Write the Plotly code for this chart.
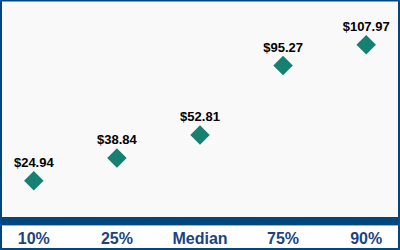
import plotly.graph_objects as go

categories = ["10%", "25%", "Median", "75%", "90%"]
values = [24.94, 38.84, 52.81, 95.27, 107.97]
labels = ["$24.94", "$38.84", "$52.81", "$95.27", "$107.97"]

W, H = 400, 250
ml, mr, mt, mb = 2, 2, 2, 33
pw, ph = W - ml - mr, H - mt - mb

BLUE = "#00467f"
TEAL = "#168170"

fig = go.Figure()
fig.add_trace(go.Scatter(
    x=categories, y=values, mode="markers+text",
    text=labels, textposition="top center",
    textfont=dict(family="Liberation Sans, Arial", size=13, color="#000000", weight="bold"),
    marker=dict(symbol="diamond", size=15, color=TEAL),
    cliponaxis=False, hoverinfo="skip",
))

def px_x(p):
    return (p - ml) / pw

def px_y(p):
    return (H - mb - p) / ph

shapes = [
    dict(type="rect", xref="paper", yref="paper", x0=px_x(0), x1=px_x(400),
         y0=px_y(225), y1=px_y(217), fillcolor=BLUE, line=dict(width=0), layer="above"),
    dict(type="line", xref="paper", yref="paper", x0=px_x(0), x1=px_x(400),
         y0=px_y(225.5), y1=px_y(225.5), line=dict(color="#9fb3c8", width=1)),
    dict(type="rect", xref="paper", yref="paper", x0=px_x(1), x1=px_x(399),
         y0=px_y(249), y1=px_y(0.5), fillcolor="rgba(0,0,0,0)", line=dict(color=BLUE, width=2)),
]

fig.update_layout(
    width=W, height=H,
    margin=dict(l=ml, r=mr, t=mt, b=mb, pad=0),
    paper_bgcolor="#ffffff", plot_bgcolor="#f9f9f9",
    showlegend=False, shapes=shapes,
    xaxis=dict(type="category", range=[-0.383, 4.383], showgrid=False, zeroline=False,
               showline=False, ticks="outside", ticklen=7, tickcolor="rgba(0,0,0,0)",
               tickfont=dict(family="Liberation Sans, Arial", size=16, color="#1a4480", weight="bold")),
    yaxis=dict(range=[2.78, 134.0], showgrid=False, zeroline=False, showline=False,
               showticklabels=False, ticks=""),
)

fig.write_html("out.html")
